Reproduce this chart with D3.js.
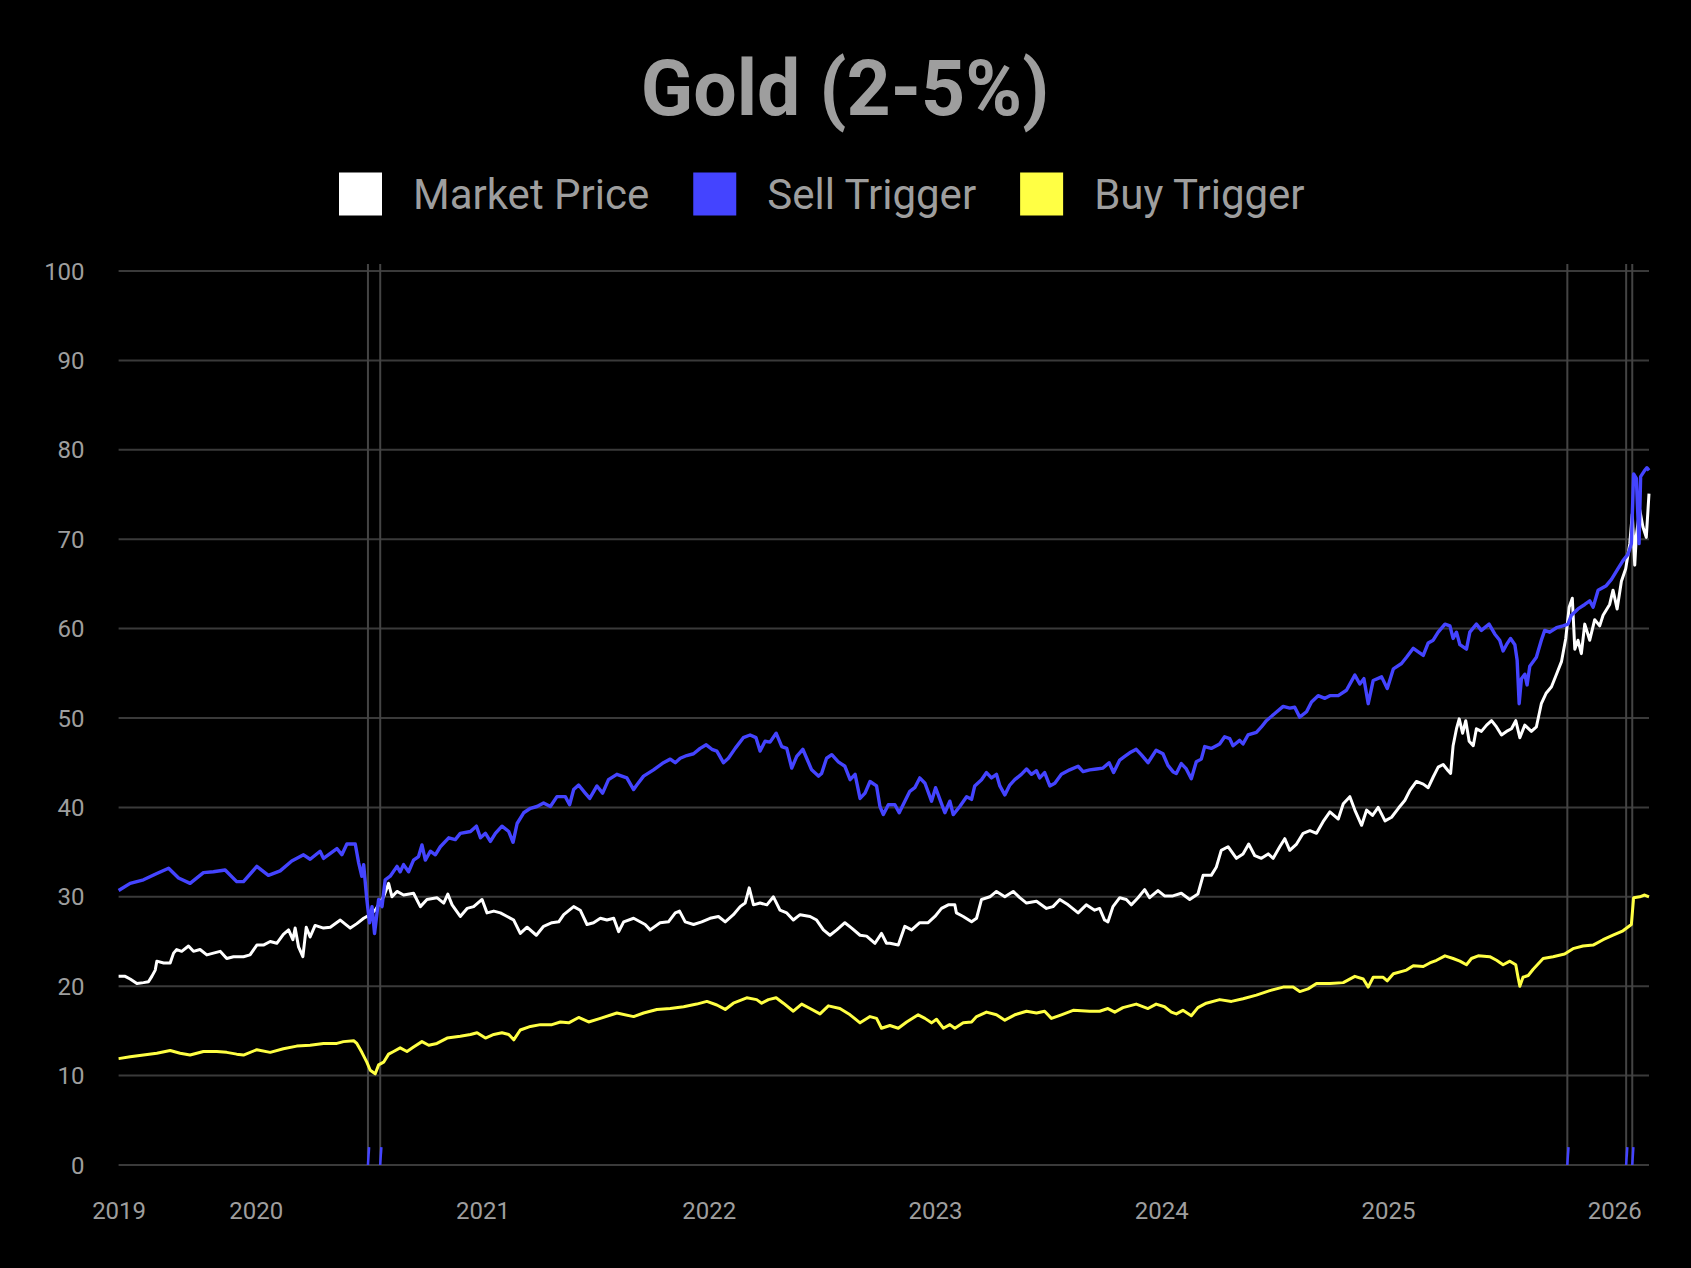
<!DOCTYPE html>
<html>
<head>
<meta charset="utf-8">
<script src="https://cdn.jsdelivr.net/npm/d3@7"></script>
<style>
  html, body { margin: 0; padding: 0; background: #000; }
  svg { display: block; }
</style>
</head>
<body>
<svg id="chart" width="1691" height="1268"></svg>
<script>
// ---------------- DATA (decimal year, value) ----------------
const chartTitle = "Gold (2-5%)";
const seriesNames = ["Market Price", "Sell Trigger", "Buy Trigger"];
const seriesColors = ["#ffffff", "#4444ff", "#ffff44"];

const marketPrice = [
[2019.394,21.1],[2019.423,21.1],[2019.445,20.8],[2019.475,20.3],[2019.504,20.4],[2019.526,20.5],[2019.541,21.1],[2019.556,21.8],[2019.563,22.8],[2019.593,22.6],[2019.622,22.6],[2019.637,23.7],[2019.651,24.1],[2019.673,23.9],[2019.703,24.5],[2019.725,23.9],[2019.754,24.1],[2019.784,23.5],[2019.813,23.7],[2019.843,23.9],[2019.872,23.1],[2019.902,23.3],[2019.946,23.3],[2019.975,23.5],
[2020.005,24.6],[2020.034,24.6],[2020.064,25.0],[2020.093,24.8],[2020.122,25.8],[2020.145,26.3],[2020.164,25.2],[2020.174,26.5],[2020.189,24.4],[2020.208,23.3],[2020.223,26.6],[2020.240,25.5],[2020.262,26.8],[2020.299,26.5],[2020.329,26.6],[2020.373,27.4],[2020.417,26.5],[2020.446,27.0],[2020.476,27.6],[2020.505,28.0],[2020.527,28.5],[2020.564,30.0],[2020.586,31.5],[2020.601,30.0],[2020.623,30.6],[2020.652,30.2],[2020.696,30.4],[2020.726,28.9],[2020.755,29.7],[2020.799,29.9],[2020.829,29.3],[2020.847,30.3],[2020.866,29.1],[2020.902,27.8],[2020.932,28.7],[2020.961,28.9],[2020.998,29.7],
[2021.020,28.2],[2021.050,28.4],[2021.079,28.2],[2021.109,27.8],[2021.138,27.4],[2021.167,25.9],[2021.197,26.6],[2021.238,25.7],[2021.270,26.7],[2021.307,27.1],[2021.337,27.2],[2021.359,28.0],[2021.403,28.9],[2021.432,28.5],[2021.462,26.9],[2021.491,27.1],[2021.521,27.6],[2021.550,27.4],[2021.580,27.6],[2021.602,26.1],[2021.624,27.2],[2021.668,27.6],[2021.719,26.9],[2021.741,26.3],[2021.785,27.1],[2021.822,27.2],[2021.852,28.2],[2021.871,28.4],[2021.896,27.2],[2021.933,26.9],[2021.969,27.2],
[2022.006,27.6],[2022.043,27.8],[2022.073,27.2],[2022.109,28.0],[2022.139,28.9],[2022.161,29.3],[2022.179,31.0],[2022.198,29.1],[2022.227,29.3],[2022.257,29.1],[2022.286,30.0],[2022.315,28.5],[2022.345,28.2],[2022.374,27.4],[2022.404,28.0],[2022.448,27.8],[2022.477,27.4],[2022.507,26.3],[2022.536,25.7],[2022.566,26.3],[2022.602,27.1],[2022.632,26.5],[2022.669,25.7],[2022.698,25.6],[2022.735,24.8],[2022.764,25.9],[2022.786,24.8],[2022.801,24.8],[2022.838,24.6],[2022.867,26.7],[2022.897,26.3],[2022.933,27.1],[2022.970,27.1],
[2023.000,27.8],[2023.029,28.7],[2023.059,29.1],[2023.088,29.1],[2023.095,28.2],[2023.125,27.8],[2023.162,27.2],[2023.184,27.6],[2023.206,29.7],[2023.243,30.0],[2023.272,30.6],[2023.309,30.0],[2023.346,30.6],[2023.375,29.9],[2023.405,29.3],[2023.449,29.5],[2023.493,28.7],[2023.522,28.9],[2023.552,29.7],[2023.589,29.1],[2023.633,28.2],[2023.669,29.1],[2023.706,28.5],[2023.728,28.7],[2023.750,27.4],[2023.765,27.2],[2023.787,28.9],[2023.817,29.9],[2023.846,29.7],[2023.868,29.1],[2023.898,29.9],[2023.927,30.8],[2023.949,29.9],[2023.986,30.7],
[2024.015,30.1],[2024.052,30.1],[2024.089,30.4],[2024.126,29.7],[2024.162,30.3],[2024.185,32.4],[2024.221,32.4],[2024.243,33.3],[2024.265,35.2],[2024.295,35.6],[2024.332,34.3],[2024.361,34.8],[2024.386,35.9],[2024.413,34.6],[2024.442,34.3],[2024.472,34.8],[2024.494,34.3],[2024.523,35.6],[2024.545,36.5],[2024.567,35.2],[2024.597,35.9],[2024.626,37.1],[2024.656,37.4],[2024.685,37.1],[2024.714,38.4],[2024.744,39.5],[2024.781,38.7],[2024.803,40.4],[2024.832,41.2],[2024.854,39.7],[2024.884,38.0],[2024.906,39.7],[2024.932,39.1],[2024.957,40.0],[2024.987,38.5],
[2025.016,38.9],[2025.046,39.9],[2025.075,40.8],[2025.097,41.9],[2025.126,42.9],[2025.156,42.6],[2025.178,42.2],[2025.200,43.4],[2025.222,44.5],[2025.244,44.8],[2025.266,44.1],[2025.277,43.8],[2025.288,46.9],[2025.303,48.8],[2025.315,49.9],[2025.330,48.3],[2025.344,49.7],[2025.359,47.4],[2025.377,46.9],[2025.391,48.8],[2025.413,48.5],[2025.436,49.2],[2025.458,49.7],[2025.480,49.0],[2025.502,48.1],[2025.524,48.5],[2025.546,48.8],[2025.565,49.7],[2025.583,47.8],[2025.605,49.2],[2025.634,48.5],[2025.656,49.0],[2025.678,51.6],[2025.700,52.8],[2025.723,53.5],[2025.745,54.9],[2025.767,56.3],[2025.786,58.9],[2025.801,62.4],[2025.815,63.4],[2025.826,57.7],[2025.840,58.7],[2025.855,57.2],[2025.870,60.5],[2025.892,58.7],[2025.914,61.0],[2025.936,60.3],[2025.951,61.5],[2025.980,62.7],[2025.995,64.3],
[2026.013,62.2],[2026.032,65.3],[2026.051,66.7],[2026.069,69.5],[2026.080,72.8],[2026.091,67.1],[2026.098,70.4],[2026.113,73.3],[2026.127,71.4],[2026.142,70.2],[2026.154,75.1]
];

const sellTrigger = [
[2019.394,30.7],[2019.445,31.5],[2019.504,31.9],[2019.563,32.6],[2019.615,33.2],[2019.659,32.1],[2019.710,31.5],[2019.769,32.7],[2019.813,32.8],[2019.865,33.0],[2019.916,31.7],[2019.946,31.7],
[2020.005,33.4],[2020.056,32.4],[2020.108,32.9],[2020.159,34.0],[2020.211,34.7],[2020.240,34.2],[2020.284,35.1],[2020.299,34.3],[2020.358,35.4],[2020.380,34.7],[2020.402,35.9],[2020.439,35.9],[2020.454,33.8],[2020.468,32.3],[2020.476,33.6],[2020.490,29.7],[2020.502,27.1],[2020.513,28.9],[2020.524,25.9],[2020.542,29.7],[2020.557,28.9],[2020.571,31.9],[2020.593,32.3],[2020.623,33.4],[2020.637,32.8],[2020.652,33.6],[2020.674,32.8],[2020.696,34.1],[2020.718,34.5],[2020.733,35.8],[2020.748,34.1],[2020.770,35.1],[2020.792,34.7],[2020.814,35.6],[2020.851,36.6],[2020.880,36.4],[2020.902,37.1],[2020.947,37.3],[2020.973,37.9],[2020.991,36.6],
[2021.013,37.1],[2021.035,36.2],[2021.057,37.1],[2021.086,37.9],[2021.116,37.3],[2021.135,36.1],[2021.153,38.2],[2021.182,39.4],[2021.212,39.9],[2021.241,40.1],[2021.270,40.5],[2021.300,40.1],[2021.329,41.2],[2021.366,41.2],[2021.385,40.3],[2021.403,42.0],[2021.425,42.5],[2021.454,41.6],[2021.474,41.0],[2021.506,42.4],[2021.531,41.6],[2021.557,43.1],[2021.594,43.7],[2021.638,43.3],[2021.668,42.0],[2021.682,42.5],[2021.712,43.5],[2021.756,44.2],[2021.800,45.0],[2021.830,45.4],[2021.852,45.0],[2021.874,45.5],[2021.903,45.8],[2021.933,46.0],[2021.962,46.6],[2021.989,47.0],
[2022.014,46.5],[2022.036,46.3],[2022.065,45.0],[2022.087,45.5],[2022.117,46.6],[2022.153,47.8],[2022.183,48.1],[2022.209,47.8],[2022.227,46.3],[2022.249,47.4],[2022.271,47.3],[2022.298,48.3],[2022.323,46.8],[2022.345,46.6],[2022.367,44.4],[2022.389,45.7],[2022.416,46.5],[2022.433,45.5],[2022.455,44.2],[2022.485,43.5],[2022.499,43.8],[2022.521,45.5],[2022.544,45.9],[2022.573,45.1],[2022.602,44.6],[2022.625,43.1],[2022.647,43.7],[2022.669,41.0],[2022.691,41.6],[2022.713,42.9],[2022.742,42.4],[2022.757,40.1],[2022.772,39.2],[2022.794,40.3],[2022.823,40.3],[2022.842,39.4],[2022.867,40.7],[2022.889,41.8],[2022.911,42.2],[2022.933,43.3],[2022.956,42.7],[2022.985,40.7],
[2023.003,42.2],[2023.022,40.9],[2023.044,39.4],[2023.066,40.7],[2023.081,39.2],[2023.110,40.1],[2023.140,41.2],[2023.162,40.9],[2023.176,42.4],[2023.206,43.1],[2023.228,43.9],[2023.250,43.3],[2023.272,43.7],[2023.287,42.4],[2023.309,41.4],[2023.331,42.5],[2023.353,43.1],[2023.382,43.7],[2023.405,44.3],[2023.427,43.7],[2023.449,44.1],[2023.463,43.3],[2023.485,43.9],[2023.508,42.4],[2023.530,42.7],[2023.559,43.7],[2023.596,44.2],[2023.633,44.6],[2023.655,44.0],[2023.684,44.2],[2023.714,44.3],[2023.743,44.4],[2023.770,45.0],[2023.790,43.9],[2023.817,45.3],[2023.839,45.7],[2023.861,46.1],[2023.890,46.5],[2023.912,45.9],[2023.942,45.0],[2023.978,46.4],
[2024.008,46.0],[2024.030,44.7],[2024.052,44.0],[2024.067,43.8],[2024.089,44.9],[2024.111,44.3],[2024.133,43.2],[2024.155,45.1],[2024.177,45.4],[2024.192,46.8],[2024.221,46.6],[2024.258,47.1],[2024.280,47.9],[2024.302,47.7],[2024.317,46.9],[2024.346,47.5],[2024.361,47.1],[2024.383,48.1],[2024.420,48.4],[2024.442,49.0],[2024.464,49.7],[2024.501,50.5],[2024.538,51.3],[2024.567,51.1],[2024.589,51.2],[2024.611,50.1],[2024.641,50.7],[2024.663,51.8],[2024.692,52.5],[2024.722,52.2],[2024.744,52.5],[2024.781,52.5],[2024.817,53.1],[2024.854,54.8],[2024.876,53.8],[2024.894,54.4],[2024.913,51.6],[2024.935,54.2],[2024.972,54.6],[2024.997,53.3],
[2025.024,55.5],[2025.060,56.1],[2025.082,56.8],[2025.112,57.8],[2025.134,57.4],[2025.156,57.0],[2025.178,58.4],[2025.200,58.7],[2025.222,59.6],[2025.252,60.5],[2025.274,60.3],[2025.288,58.9],[2025.303,59.6],[2025.318,58.2],[2025.347,57.7],[2025.362,59.6],[2025.391,60.5],[2025.413,59.8],[2025.447,60.5],[2025.472,59.4],[2025.494,58.7],[2025.509,57.5],[2025.524,58.2],[2025.542,58.9],[2025.561,58.2],[2025.571,56.5],[2025.580,51.6],[2025.590,54.4],[2025.605,54.9],[2025.615,53.7],[2025.627,55.8],[2025.656,56.8],[2025.678,58.7],[2025.693,59.8],[2025.715,59.6],[2025.745,60.1],[2025.774,60.3],[2025.796,60.5],[2025.811,61.5],[2025.840,62.2],[2025.870,62.7],[2025.892,63.1],[2025.907,62.4],[2025.929,64.3],[2025.965,64.8],[2025.988,65.5],
[2026.017,66.7],[2026.039,67.6],[2026.061,68.3],[2026.076,69.5],[2026.086,77.3],[2026.098,76.8],[2026.110,69.5],[2026.117,77.0],[2026.135,77.7],[2026.145,78.0],[2026.154,77.7]
];

const buyTrigger = [
[2019.394,11.9],[2019.445,12.1],[2019.504,12.3],[2019.563,12.5],[2019.622,12.8],[2019.666,12.5],[2019.710,12.3],[2019.769,12.7],[2019.828,12.7],[2019.872,12.6],[2019.916,12.4],[2019.946,12.3],
[2020.005,12.9],[2020.064,12.6],[2020.122,13.0],[2020.181,13.3],[2020.240,13.4],[2020.299,13.6],[2020.358,13.6],[2020.387,13.8],[2020.432,13.9],[2020.446,13.6],[2020.468,12.6],[2020.490,11.5],[2020.505,10.6],[2020.527,10.2],[2020.542,11.2],[2020.564,11.5],[2020.586,12.4],[2020.608,12.7],[2020.637,13.1],[2020.667,12.7],[2020.696,13.2],[2020.733,13.8],[2020.763,13.4],[2020.799,13.6],[2020.844,14.2],[2020.902,14.4],[2020.947,14.6],[2020.976,14.8],
[2021.013,14.2],[2021.050,14.6],[2021.086,14.8],[2021.116,14.6],[2021.138,14.0],[2021.167,15.1],[2021.212,15.5],[2021.256,15.7],[2021.307,15.7],[2021.344,16.0],[2021.381,15.9],[2021.425,16.5],[2021.469,16.0],[2021.521,16.4],[2021.594,17.0],[2021.668,16.6],[2021.712,17.0],[2021.771,17.4],[2021.830,17.5],[2021.889,17.7],[2021.947,18.0],[2021.992,18.3],
[2022.036,17.9],[2022.073,17.4],[2022.109,18.1],[2022.168,18.7],[2022.212,18.5],[2022.234,18.1],[2022.264,18.5],[2022.298,18.7],[2022.330,18.1],[2022.374,17.2],[2022.411,18.0],[2022.448,17.5],[2022.492,16.9],[2022.529,17.8],[2022.580,17.5],[2022.625,16.8],[2022.669,15.9],[2022.713,16.6],[2022.742,16.4],[2022.764,15.3],[2022.801,15.6],[2022.838,15.3],[2022.875,16.0],[2022.926,16.8],[2022.956,16.4],[2022.985,15.9],
[2023.007,16.3],[2023.037,15.3],[2023.066,15.7],[2023.088,15.3],[2023.125,15.9],[2023.162,16.0],[2023.184,16.6],[2023.228,17.1],[2023.272,16.8],[2023.309,16.2],[2023.353,16.8],[2023.405,17.2],[2023.449,17.0],[2023.485,17.2],[2023.515,16.4],[2023.559,16.8],[2023.611,17.3],[2023.684,17.2],[2023.728,17.2],[2023.765,17.5],[2023.795,17.1],[2023.831,17.6],[2023.890,18.0],[2023.942,17.5],[2023.978,18.0],
[2024.015,17.7],[2024.045,17.1],[2024.067,16.9],[2024.096,17.3],[2024.133,16.7],[2024.162,17.6],[2024.199,18.1],[2024.258,18.5],[2024.310,18.3],[2024.361,18.6],[2024.420,19.0],[2024.479,19.5],[2024.538,19.9],[2024.582,19.9],[2024.611,19.4],[2024.648,19.7],[2024.685,20.3],[2024.744,20.3],[2024.803,20.4],[2024.854,21.1],[2024.891,20.8],[2024.913,19.9],[2024.935,21.0],[2024.979,21.0],[2024.997,20.6],
[2025.024,21.4],[2025.082,21.8],[2025.112,22.3],[2025.156,22.2],[2025.185,22.6],[2025.215,22.9],[2025.252,23.4],[2025.288,23.1],[2025.318,22.8],[2025.347,22.4],[2025.369,23.1],[2025.399,23.4],[2025.450,23.3],[2025.480,22.9],[2025.509,22.4],[2025.539,22.8],[2025.565,22.4],[2025.575,21.0],[2025.583,20.0],[2025.597,21.0],[2025.620,21.2],[2025.642,21.9],[2025.686,23.1],[2025.730,23.3],[2025.781,23.6],[2025.818,24.2],[2025.862,24.5],[2025.907,24.6],[2025.951,25.2],[2025.995,25.7],
[2026.039,26.2],[2026.076,26.9],[2026.086,29.9],[2026.113,30.0],[2026.135,30.2],[2026.154,30.0]
];

// Vertical event lines (decimal year) and the small sell markers at their foot
const eventDates = [2020.495, 2020.549, 2025.793, 2026.053, 2026.080];
const markerHeight = 2; // value units

const yTicks = [0, 10, 20, 30, 40, 50, 60, 70, 80, 90, 100];
const xStart = 2019.394, xEnd = 2026.154;
const xTickYears = [2020, 2021, 2022, 2023, 2024, 2025, 2026];

// ---------------- HELPERS ----------------
function dy(t) {
  const yr = Math.floor(t);
  const s = Date.UTC(yr, 0, 1), e = Date.UTC(yr + 1, 0, 1);
  return new Date(s + (t - yr) * (e - s));
}

// ---------------- CHART ----------------
const svg = d3.select("#chart");
const W = 1691, H = 1268;
svg.append("rect").attr("width", W).attr("height", H).attr("fill", "#000");

const plotLeft = 118.6, plotRight = 1649, plotTop = 271, plotBottom = 1165;
const x = d3.scaleUtc().domain([dy(xStart), dy(xEnd)]).range([plotLeft, plotRight]);
const y = d3.scaleLinear().domain([0, 100]).range([plotBottom, plotTop]);

const font = "Roboto, 'Noto Sans', sans-serif";
const textGray = "#9e9e9e";

// Title
svg.append("text")
  .attr("x", 845).attr("y", 115)
  .attr("text-anchor", "middle")
  .attr("font-family", font).attr("font-weight", 700)
  .attr("font-size", 77)
  .attr("fill", textGray)
  .text(chartTitle);

// Legend
const legend = svg.append("g");
let lx = 339;
seriesNames.forEach((name, i) => {
  legend.append("rect")
    .attr("x", lx).attr("y", 172.5).attr("width", 43).attr("height", 43)
    .attr("fill", seriesColors[i]);
  const t = legend.append("text")
    .attr("x", lx + 74).attr("y", 209)
    .attr("font-family", font).attr("font-size", 42)
    .attr("fill", textGray)
    .text(name);
  lx = lx + 74 + t.node().getComputedTextLength() + 44;
});

// Horizontal gridlines
svg.append("g").selectAll("line").data(yTicks).join("line")
  .attr("x1", plotLeft).attr("x2", plotRight)
  .attr("y1", d => y(d)).attr("y2", d => y(d))
  .attr("stroke", "#3a3a3a").attr("stroke-width", 2);

// Y axis labels
const yAxis = svg.append("g")
  .attr("transform", `translate(${plotLeft},0)`)
  .call(d3.axisLeft(y).tickValues(yTicks).tickSize(0).tickPadding(34).tickFormat(d3.format("d")));
yAxis.select(".domain").remove();
yAxis.selectAll("text")
  .attr("font-family", font).attr("font-size", 24).attr("fill", textGray)
  .attr("dy", null).attr("dominant-baseline", "central");

// X axis labels
const xTickDates = [dy(xStart)].concat(xTickYears.map(yr => new Date(Date.UTC(yr, 0, 1))));
const xAxis = svg.append("g")
  .attr("transform", `translate(0,${plotBottom})`)
  .call(d3.axisBottom(x).tickValues(xTickDates).tickSize(0).tickFormat(d3.utcFormat("%Y")));
xAxis.select(".domain").remove();
xAxis.selectAll("text")
  .attr("font-family", font).attr("font-size", 24).attr("fill", textGray)
  .attr("dy", null).attr("y", 46).attr("dominant-baseline", "central");

// Vertical event lines
svg.append("g").selectAll("line").data(eventDates).join("line")
  .attr("x1", d => x(dy(d))).attr("x2", d => x(dy(d)))
  .attr("y1", y(100) - 7).attr("y2", y(0))
  .attr("stroke", "#444").attr("stroke-width", 2);

// Series lines
const line = d3.line().x(d => x(dy(d[0]))).y(d => y(d[1])).curve(d3.curveLinear);
const seriesData = [marketPrice, sellTrigger, buyTrigger];
const widths = [3, 3.4, 3];
seriesData.forEach((data, i) => {
  svg.append("path")
    .datum(data)
    .attr("d", line)
    .attr("fill", "none")
    .attr("stroke", seriesColors[i])
    .attr("stroke-width", widths[i])
    .attr("stroke-linejoin", "round");
});

// Sell markers at the foot of the event lines
svg.append("g").selectAll("line").data(eventDates).join("line")
  .attr("x1", d => x(dy(d))).attr("y1", y(0))
  .attr("x2", d => x(dy(d + 0.005))).attr("y2", y(markerHeight))
  .attr("stroke", seriesColors[1]).attr("stroke-width", 2.5);
</script>
</body>
</html>
